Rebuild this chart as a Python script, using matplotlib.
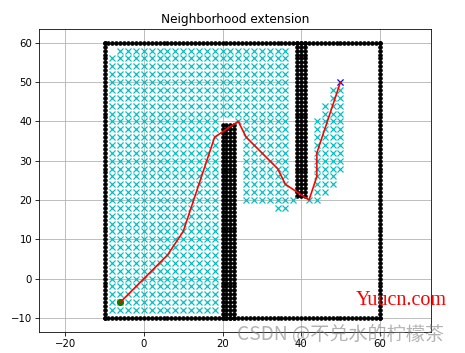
import numpy as np
import matplotlib
matplotlib.use("Agg")
import matplotlib.pyplot as plt

# Obstacle blocks (x0, x1, y0, y1), integer cells, inclusive
BOUNDARY = [(-10, 60, -10, -10), (60, 60, -10, 60), (-10, 60, 60, 60), (-10, -10, -10, 60)]
WALLS = [(20, 23, -10, 39), (39, 41, 21, 60)]

# Explored grid nodes (grid size 2): column x -> y from .. to
EXPLORED_X = [-8, -6, -4, -2, 0, 2, 4, 6, 8, 10, 12, 14, 16, 18,
              20, 22, 24, 26, 28, 30, 32, 34, 36, 38, 42, 44, 46, 48, 50]
EXPLORED_YLO = [-8, -8, -8, -8, -8, -8, -8, -8, -8, -8, -8, -8, -8, -8,
                42, 42, 40, 20, 20, 20, 20, 18, 18, 20, 20, 20, 22, 24, 28]
EXPLORED_YHI = [56, 58, 58, 58, 58, 58, 58, 58, 58, 58, 58, 58, 58, 58,
                58, 58, 58, 58, 58, 58, 58, 58, 58, 20, 20, 40, 44, 48, 50]

# Final path
PATH_X = [-6, 6, 10, 18, 24, 26, 34, 36, 42, 44, 44, 50]
PATH_Y = [-6, 6, 12, 36, 40, 36, 28, 24, 20, 26, 32, 50]

START = (-6, -6)
GOAL = (50, 50)

XTICKS = [-20, 0, 20, 40, 60]
YTICKS = [-10, 0, 10, 20, 30, 40, 50, 60]


def block_points(blocks):
    ox, oy = [], []
    for x0, x1, y0, y1 in blocks:
        for x in range(x0, x1 + 1):
            for y in range(y0, y1 + 1):
                ox.append(x)
                oy.append(y)
    return ox, oy


dpi = 465 / 6.4
fig = plt.figure(figsize=(6.4, 353 / dpi), dpi=dpi)
ax = fig.add_axes([39.3 / 465, 1 - 331.7 / 353, (430.5 - 39.3) / 465, (331.7 - 29) / 353])

ox, oy = block_points(BOUNDARY + WALLS)
ax.plot(ox, oy, ".k", markersize=7)

# explored nodes
ex, ey = [], []
for x, lo, hi in zip(EXPLORED_X, EXPLORED_YLO, EXPLORED_YHI):
    for y in np.arange(lo, hi + 1, 2):
        ex.append(x)
        ey.append(y)
ax.plot(ex, ey, "xc", markersize=6, markeredgewidth=1.2)

ax.plot(START[0], START[1], "og")
ax.plot(GOAL[0], GOAL[1], "xb", markersize=6.5)
ax.plot(PATH_X, PATH_Y, "-r", linewidth=1.6)

ax.set_title("Neighborhood extension")
ax.set_xticks(XTICKS)
ax.set_yticks(YTICKS)
ax.set_xlim(-26.6, 72.9)
ax.set_ylim(-13.5, 63.5)
ax.grid(True)

# watermarks
fig.text(356 / 465, 1 - 305 / 353, "Yuucn.com", color="red",
         family="Liberation Serif", fontsize=20, va="baseline")
fig.text(237 / 465, 1 - 335 / 353, "CSDN @不兑水的柠檬茶", color="gray", alpha=0.6,
         family=["Noto Sans CJK SC", "DejaVu Sans"], fontsize=19, va="center")

fig.savefig("out.png", dpi=dpi)
